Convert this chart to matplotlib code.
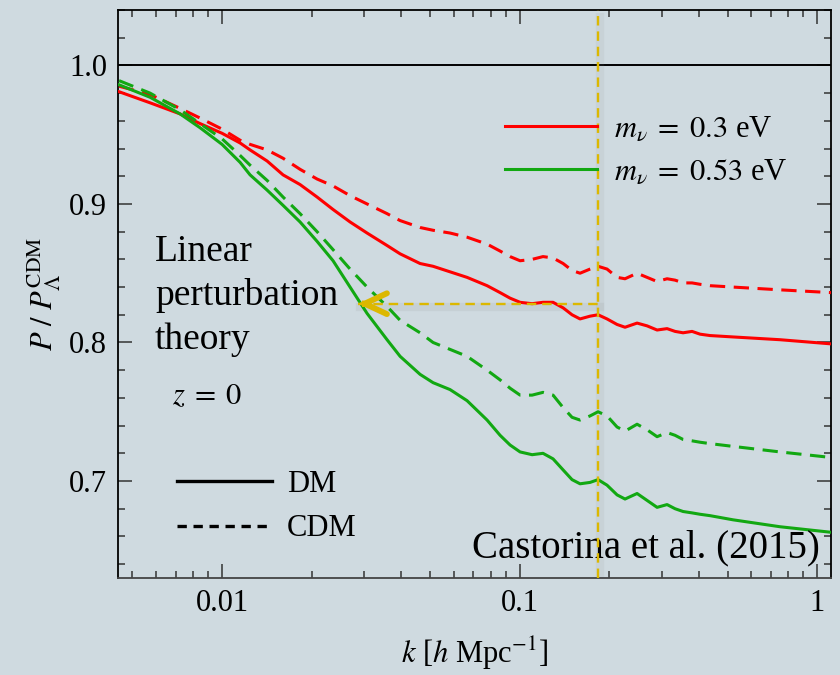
import numpy as np
import matplotlib
matplotlib.use("Agg")
import matplotlib.pyplot as plt
import matplotlib.transforms as mtransforms
from matplotlib.lines import Line2D
from matplotlib.ticker import FixedLocator, FixedFormatter, LogLocator, NullFormatter, MultipleLocator

# wavenumber grid [h/Mpc]
k = [0.004506, 0.005728, 0.007225, 0.008435, 0.01, 0.0115, 0.01242, 0.01417,
     0.01603, 0.01829, 0.02086, 0.02361, 0.02693, 0.03072, 0.03586, 0.03967,
     0.0463, 0.0512, 0.0584, 0.06661, 0.07778, 0.08601, 0.09292, 0.1004,
     0.1102, 0.1199, 0.1296, 0.1401, 0.1501, 0.1597, 0.1726, 0.1836,
     0.1968, 0.2127, 0.2262, 0.2483, 0.2683, 0.2899, 0.3132, 0.3332,
     0.3545, 0.38, 0.4044, 0.4369, 0.5219, 0.7507, 1.114]

# P / P_LCDM, m_nu = 0.3 eV
dm_03 = [0.981, 0.973, 0.965, 0.958, 0.951, 0.944, 0.939, 0.931,
         0.921, 0.914, 0.905, 0.896, 0.887, 0.879, 0.870, 0.864,
         0.857, 0.855, 0.851, 0.847, 0.841, 0.836, 0.832, 0.829,
         0.828, 0.829, 0.829, 0.825, 0.820, 0.817, 0.819, 0.820,
         0.817, 0.813, 0.811, 0.814, 0.812, 0.809, 0.810, 0.808,
         0.807, 0.808, 0.806, 0.805, 0.804, 0.802, 0.799]
cdm_03 = [0.985, 0.979, 0.969, 0.962, 0.954, 0.946, 0.943, 0.939,
          0.933, 0.925, 0.918, 0.913, 0.906, 0.900, 0.893, 0.888,
          0.883, 0.881, 0.879, 0.876, 0.871, 0.866, 0.862, 0.859,
          0.860, 0.862, 0.861, 0.857, 0.852, 0.850, 0.853, 0.855,
          0.853, 0.847, 0.846, 0.850, 0.847, 0.844, 0.846, 0.845,
          0.843, 0.843, 0.842, 0.841, 0.840, 0.838, 0.836]

# P / P_LCDM, m_nu = 0.53 eV
dm_053 = [0.986, 0.977, 0.965, 0.955, 0.943, 0.930, 0.921, 0.910,
          0.899, 0.887, 0.873, 0.859, 0.840, 0.821, 0.802, 0.790,
          0.777, 0.771, 0.766, 0.758, 0.744, 0.733, 0.726, 0.721,
          0.719, 0.720, 0.716, 0.708, 0.701, 0.698, 0.699, 0.701,
          0.697, 0.690, 0.687, 0.691, 0.686, 0.681, 0.683, 0.680,
          0.678, 0.677, 0.676, 0.675, 0.672, 0.667, 0.663]
cdm_053 = [0.989, 0.980, 0.968, 0.958, 0.947, 0.935, 0.928, 0.917,
           0.905, 0.893, 0.880, 0.867, 0.853, 0.840, 0.826, 0.816,
           0.807, 0.800, 0.795, 0.790, 0.780, 0.773, 0.767, 0.762,
           0.762, 0.764, 0.762, 0.753, 0.746, 0.744, 0.747, 0.750,
           0.747, 0.739, 0.736, 0.741, 0.737, 0.732, 0.735, 0.733,
           0.730, 0.729, 0.728, 0.727, 0.725, 0.721, 0.717]

k_mark = 0.1836      # vertical marker
k_arrow_tip = 0.0286  # where the arrow points
ratio_mark = 0.828

xticks = [0.01, 0.1, 1]
xticklabels = ["0.01", "0.1", "1"]
yticks = [0.7, 0.8, 0.9, 1.0]
yticklabels = ["0.7", "0.8", "0.9", "1.0"]

bg = "#cfdae0"
red = "#ff0000"
green = "#12a812"
yellow = "#dcb800"

plt.rcParams["font.family"] = "serif"
plt.rcParams["font.serif"] = ["Liberation Serif"]
plt.rcParams["mathtext.fontset"] = "stix"

fig = plt.figure(figsize=(8.4, 6.75), dpi=100, facecolor=bg)
ax = fig.add_axes([0.1405, 0.1437, 0.8488, 0.8415], facecolor=bg)

ax.set_xscale("log")
ax.set_xlim(0.00447, 1.114)
ax.set_ylim(0.63, 1.04)

ax.axhline(1.0, color="black", lw=1.4, zorder=2)

lw = 2.2
dash = (5.0, 2.8)
ax.plot(k, cdm_03, color=red, lw=lw, dashes=dash, zorder=3)
ax.plot(k, dm_03, color=red, lw=lw, zorder=3)
ax.plot(k, cdm_053, color=green, lw=lw, dashes=dash, zorder=3)
ax.plot(k, dm_053, color=green, lw=lw, zorder=3)

# soft shadows under the yellow guides
shadow = mtransforms.offset_copy(ax.transData, fig=fig, x=2, y=-3, units="dots")
ax.plot([k_mark, k_mark], [0.63, 1.04], color="0.55", lw=6, alpha=0.10,
        transform=shadow, solid_capstyle="butt", zorder=2)
ax.plot([k_arrow_tip, k_mark], [ratio_mark, ratio_mark], color="0.55", lw=6,
        alpha=0.12, transform=shadow, zorder=2)

ax.axvline(k_mark, color=yellow, lw=1.7, dashes=(4, 2.5), zorder=4)
ax.plot([k_arrow_tip, k_mark], [ratio_mark, ratio_mark], color=yellow, lw=1.7,
        dashes=(4, 2.5), zorder=4)
ax.annotate("", xy=(k_arrow_tip, ratio_mark), xytext=(4, 0), textcoords="offset points",
            arrowprops=dict(arrowstyle="->,head_length=1.6,head_width=0.75",
                            color=yellow, lw=4.2, shrinkA=0, shrinkB=0,
                            capstyle="round", joinstyle="miter"),
            zorder=5)

# ticks
ax.xaxis.set_major_locator(FixedLocator(xticks))
ax.xaxis.set_major_formatter(FixedFormatter(xticklabels))
ax.xaxis.set_minor_locator(LogLocator(base=10, subs=np.arange(2, 10), numticks=20))
ax.xaxis.set_minor_formatter(NullFormatter())
ax.yaxis.set_major_locator(FixedLocator(yticks))
ax.yaxis.set_major_formatter(FixedFormatter(yticklabels))
ax.yaxis.set_minor_locator(MultipleLocator(0.02))
ax.tick_params(which="both", direction="in", top=True, right=True, labelsize=22,
               color="#333333", width=1.1)
ax.tick_params(which="major", length=10, pad=8)
ax.tick_params(which="minor", length=5)
for s in ax.spines.values():
    s.set_linewidth(1.3)
    s.set_color("black")
ax.spines["bottom"].set_color("#444444")

ax.set_xlabel(r"$k$ [$h$ Mpc$^{-1}$]", fontsize=22, labelpad=12)
ax.set_ylabel(r"$P\ /\ P_\Lambda^{\rm CDM}$", fontsize=22, labelpad=4)

# legends
leg1 = ax.legend(handles=[Line2D([], [], color=red, lw=lw),
                          Line2D([], [], color=green, lw=lw)],
                 labels=[r"$m_\nu\;=\;0.3$ eV", r"$m_\nu\;=\;0.53$ eV"],
                 loc="center left", bbox_to_anchor=(0.543, 0.7526), frameon=False,
                 fontsize=22, handlelength=3.0, handletextpad=0.55,
                 labelspacing=0.45, borderpad=0, borderaxespad=0)
ax.add_artist(leg1)
ax.legend(handles=[Line2D([], [], color="black", lw=2.4),
                   Line2D([], [], color="black", lw=2.4, dashes=(2.8, 2.0))],
          labels=["DM", "CDM"], loc="center left", bbox_to_anchor=(0.0827, 0.1253),
          frameon=False, fontsize=22, handlelength=3.1, handletextpad=0.5,
          labelspacing=0.5, borderpad=0, borderaxespad=0)

ax.text(0.052, 0.497, "Linear\nperturbation\ntheory", transform=ax.transAxes,
        fontsize=27, ha="left", va="center", linespacing=1.34)
ax.text(0.125, 0.3187, r"$z\;=\;0$", transform=ax.transAxes, fontsize=22,
        ha="center", va="center")
ax.text(0.9846, 0.0528, "Castorina et al. (2015)", transform=ax.transAxes,
        fontsize=28, ha="right", va="center")

fig.savefig("out.png", dpi=100, facecolor=bg)
